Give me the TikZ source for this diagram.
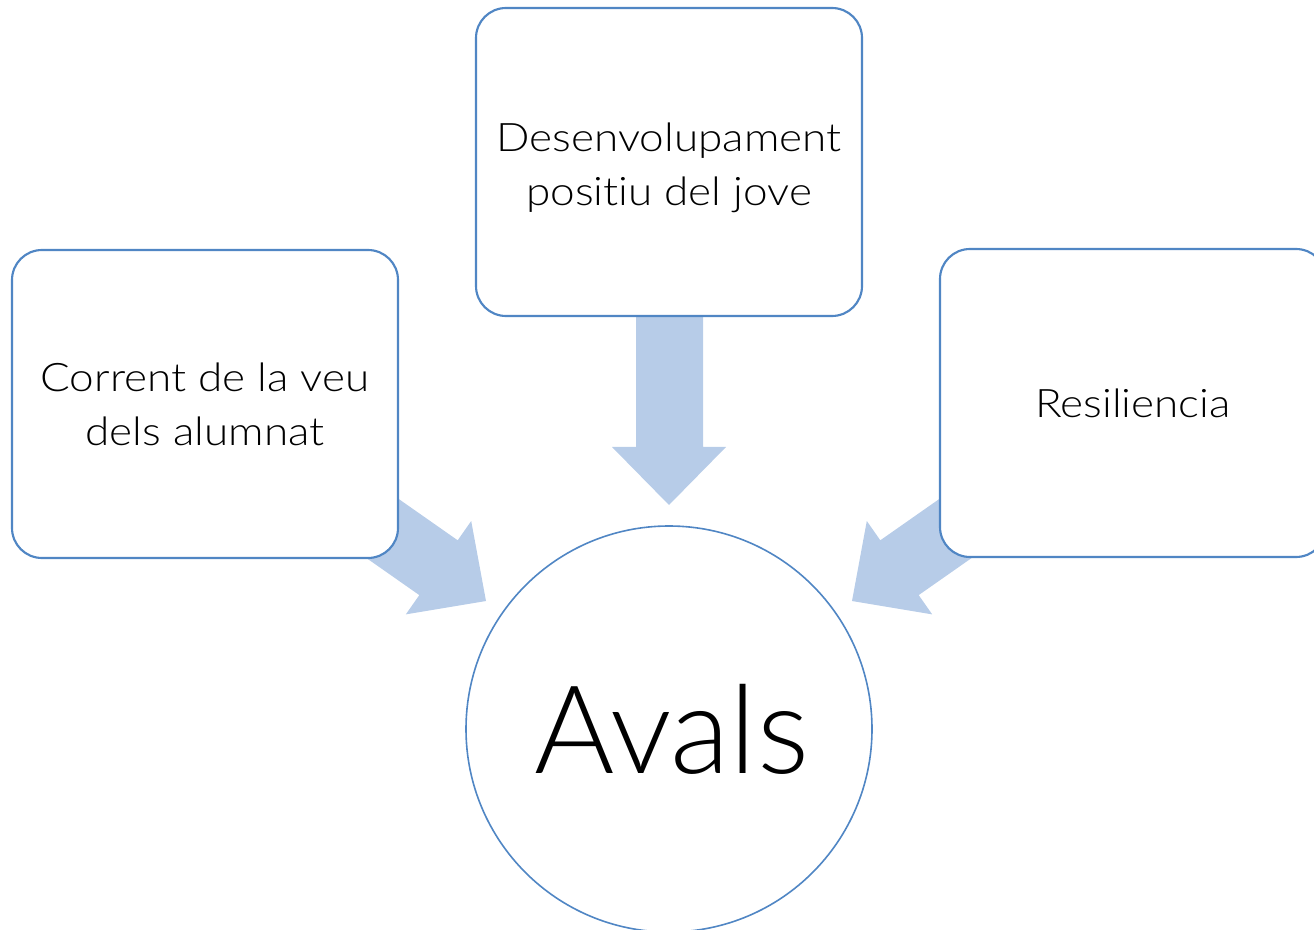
\documentclass[tikz,border=0pt]{standalone}
\usepackage{fontspec}
\setmainfont{Lato}[UprightFont=* Light]
\newfontfamily\boxfont{Lato}[UprightFont=* Light, FakeStretch=1.12, Ligatures=NoCommon]
\definecolor{boxline}{RGB}{80,134,196}
\definecolor{arrowfill}{RGB}{183,204,232}
\tikzset{
  px/.style={x=0.75pt,y=-0.75pt},
  topicbox/.style={draw=boxline,line width=1.6pt,fill=white,rounded corners=22.5pt,
    minimum width=289.5pt,minimum height=231pt,align=center,inner sep=0pt,
    font=\boxfont\fontsize{29.5}{40.5}\selectfont},
  hubcircle/.style={draw=boxline,line width=1.2pt,fill=white,circle,minimum size=304.5pt,
    inner sep=0pt,font=\fontsize{92}{100}\selectfont},
  blockarrow/.style={fill=arrowfill,draw=none}
}
\begin{document}
\begin{tikzpicture}[px]
\useasboundingbox (0,0) rectangle (1314,930);
\clip (0,0) rectangle (1314,930);
% block arrows (behind the boxes)
\fill[blockarrow] (636,300) -- (703,300) -- (703,447) -- (726,447) -- (669,505) -- (612,447) -- (636,447) -- cycle;
\fill[blockarrow] (334.8,454.2) -- (457.7,540.3) -- (471.2,521.0) -- (486,601) -- (405.8,614.4) -- (419.3,595.1) -- (296.4,509.0) -- cycle;
\fill[blockarrow] (1003.2,454.2) -- (880.3,540.3) -- (866.8,521.0) -- (852,601) -- (932.2,614.4) -- (918.7,595.1) -- (1041.6,509.0) -- cycle;
% nodes
\node[topicbox] (left) at (205,404) {Corrent de la veu\\dels alumnat};
\node[topicbox, minimum height=231pt] (top) at (669,162) {};
\node[align=center,inner sep=0pt,font=\boxfont\fontsize{29.5}{40.5}\selectfont] (toptext) at (669,168) {Desenvolupament\\positiu del jove};
\node[topicbox] (right) at (1133,403) {Resiliencia};
\node[hubcircle] (hub) at (669,729) {\hspace*{4pt}Avals};
\end{tikzpicture}
\end{document}
